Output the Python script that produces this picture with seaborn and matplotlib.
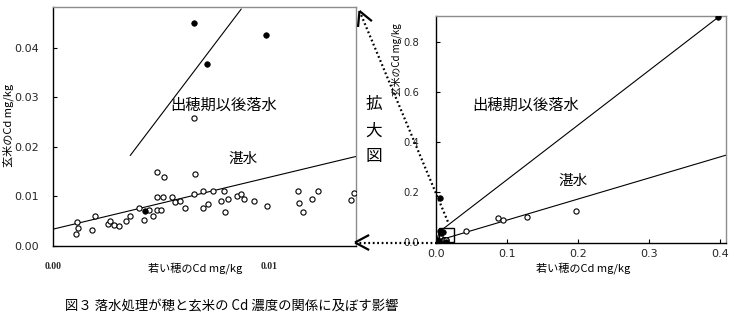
import numpy as np
import pandas as pd
import matplotlib
matplotlib.use("Agg")
import matplotlib.pyplot as plt
import matplotlib.transforms as mtransforms
from matplotlib.lines import Line2D
from matplotlib.patches import Rectangle
import seaborn as sns

# Cd concentration (mg/kg): young panicle (x) vs. brown rice (y)
# continuously flooded plots (open circles)
flooded_x = [0.00109, 0.00118, 0.00107, 0.00183, 0.00195, 0.00254, 0.00265, 0.00285,
             0.00304, 0.00340, 0.00358, 0.00397, 0.00420, 0.00443, 0.00464, 0.00480,
             0.00482, 0.00500, 0.00480, 0.00513, 0.00510, 0.00550, 0.00567, 0.00587,
             0.00610, 0.00657, 0.00653, 0.00696, 0.00696, 0.00718, 0.00743, 0.00780,
             0.00792, 0.00797, 0.00810, 0.00854, 0.00873, 0.00885, 0.00932, 0.00994,
             0.01138, 0.01140, 0.01157, 0.01200, 0.01230, 0.01381, 0.01394, 0.00653]
flooded_y = [0.00485, 0.00350, 0.00236, 0.00320, 0.00600, 0.00440, 0.00500, 0.00420,
             0.00400, 0.00490, 0.00600, 0.00755, 0.00520, 0.00720, 0.00600, 0.00990,
             0.00720, 0.00720, 0.01495, 0.01380, 0.00980, 0.00990, 0.00870, 0.00890,
             0.00755, 0.01435, 0.01040, 0.01110, 0.00755, 0.00840, 0.01100, 0.00900,
             0.01110, 0.00670, 0.00940, 0.01010, 0.01040, 0.00940, 0.00900, 0.00800,
             0.01110, 0.00860, 0.00670, 0.00940, 0.01110, 0.00920, 0.01070, 0.02574]
# drained after heading (filled circles)
drained_x = [0.00653, 0.00715, 0.00989, 0.00425, 0.01420]
drained_y = [0.0449, 0.0367, 0.0426, 0.0069, 0.0008]
# samples only visible on the full-range panel
flooded_wide_x = [0.0428, 0.0874, 0.0944, 0.128, 0.197]
flooded_wide_y = [0.046, 0.096, 0.089, 0.102, 0.126]
drained_wide_x = [0.0056, 0.397]
drained_wide_y = [0.176, 0.900]

# regression lines: (intercept, slope, x_start, x_end)
left_flooded_fit = (0.0033, 1.046, 0.0, 0.01405)
left_drained_fit = (-0.0024, 5.75, 0.00358, 0.00873)
right_flooded_fit = (0.005, 0.843, 0.0047, 0.408)
right_drained_fit = (0.0317, 2.187, 0.0093, 0.397)

left_xticks = [0.00, 0.01]
left_yticks = [0.00, 0.01, 0.02, 0.03, 0.04]
right_xticks = [0.0, 0.1, 0.2, 0.3, 0.4]
right_yticks = [0.0, 0.2, 0.4, 0.6, 0.8]

LBL_FLOOD = "湛水"
LBL_DRAIN = "出穂期以後落水"
XLABEL = "若い穂のCd mg/kg"
YLABEL = "玄米のCd mg/kg"
CAPTION = "図３ 落水処理が穂と玄米の Cd 濃度の関係に及ぼす影響"

sns.set_theme(style="white")
plt.rcParams["font.family"] = ["Noto Sans CJK JP", "DejaVu Sans"]

W, H = 734, 323
fig = plt.figure(figsize=(W / 100, H / 100), dpi=100)
# pixel coordinates, origin top-left
px = mtransforms.Affine2D().scale(1 / W, -1 / H).translate(0, 1) + fig.transFigure


def axes_px(x0, y0, x1, y1):
    return fig.add_axes([x0 / W, 1 - y1 / H, (x1 - x0) / W, (y1 - y0) / H])


ax_l = axes_px(53, 7, 356, 245.5)
ax_r = axes_px(435.7, 16, 726, 242.5)

open_pts = pd.DataFrame({"x": flooded_x, "y": flooded_y})
fill_pts = pd.DataFrame({"x": drained_x, "y": drained_y})
open_wide = pd.concat([open_pts, pd.DataFrame({"x": flooded_wide_x, "y": flooded_wide_y})])
fill_wide = pd.concat([fill_pts, pd.DataFrame({"x": drained_wide_x, "y": drained_wide_y})])


def draw_fit(ax, fit):
    b, m, x0, x1 = fit
    xs = np.array([x0, x1])
    ax.plot(xs, b + m * xs, color="black", lw=0.8, zorder=2)


for ax, op, fp in [(ax_l, open_pts, fill_pts), (ax_r, open_wide, fill_wide)]:
    sns.scatterplot(data=op, x="x", y="y", ax=ax, s=14, marker="o",
                    facecolor="white", edgecolor="black", linewidth=0.8, zorder=3)
    sns.scatterplot(data=fp, x="x", y="y", ax=ax, s=16, marker="o",
                    color="black", edgecolor="black", linewidth=0.5, zorder=4)
    ax.set_xlabel("")
    ax.set_ylabel("")
    ax.grid(False)
    for side in ["left", "bottom"]:
        ax.spines[side].set_color("black")
        ax.spines[side].set_linewidth(1.0)
    for side in ["top", "right"]:
        ax.spines[side].set_color("#8c8c8c")
        ax.spines[side].set_linewidth(1.0)

draw_fit(ax_l, left_flooded_fit)
draw_fit(ax_l, left_drained_fit)
draw_fit(ax_r, right_flooded_fit)
draw_fit(ax_r, right_drained_fit)

# left (magnified) panel
ax_l.set_xlim(0, 0.01405)
ax_l.set_ylim(0, 0.0482)
ax_l.set_yticks(left_yticks)
ax_l.set_yticklabels([f"{v:.2f}" for v in left_yticks], fontsize=8, family="DejaVu Sans")
ax_l.set_xticks(left_xticks)
ax_l.set_xticklabels([f"{v:.2f}" for v in left_xticks], fontsize=7,
                     family="Liberation Serif", fontweight="bold")
ax_l.tick_params(axis="y", direction="in", length=3, width=0.8, color="black", pad=10, left=True)
ax_l.tick_params(axis="x", length=0, pad=12)

# right (full-range) panel
ax_r.set_xlim(0.0033, 0.408)
ax_r.set_ylim(0, 0.905)
ax_r.set_yticks(right_yticks)
ax_r.set_yticklabels([f"{v:.1f}" for v in right_yticks], fontsize=7.2, family="DejaVu Sans")
ax_r.set_xticks(right_xticks)
ax_r.set_xticklabels([f"{v:.1f}" for v in right_xticks], fontsize=8, family="DejaVu Sans")
ax_r.tick_params(axis="y", direction="in", length=3, width=0.8, color="black", pad=12, left=True)
ax_r.tick_params(axis="x", direction="in", length=3, width=0.8, color="black", pad=5, bottom=True)
ax_r.add_patch(Rectangle((0.005, 0.002), 0.021, 0.054, fill=False,
                         edgecolor="black", lw=1.0, zorder=5))

# in-plot labels
txt = dict(transform=px, ha="center", va="center", color="black")
fig.text(223.5, 105.5, LBL_DRAIN, fontsize=11, **txt)
fig.text(243.5, 158.5, LBL_FLOOD, fontsize=10.5, **txt)
fig.text(526, 105.5, LBL_DRAIN, fontsize=11, **txt)
fig.text(573, 180.5, LBL_FLOOD, fontsize=10.5, **txt)

# axis titles
fig.text(195, 268, XLABEL, fontsize=8, **txt)
fig.text(583, 268, XLABEL, fontsize=8, **txt)
fig.text(8, 125, YLABEL, fontsize=8, rotation=90, **txt)
fig.text(397, 60, YLABEL, fontsize=7, rotation=90, **txt)

# "magnified view" marker between panels
for ch, yy in zip("拡大図", [105, 131, 156]):
    fig.text(373.5, yy, ch, fontsize=12, **txt)

# caption
fig.text(231.5, 306.5, CAPTION, fontsize=9.6, **txt)


def dotted_arrow(tip, tail, arm=16, half=28):
    fig.add_artist(Line2D([tip[0], tail[0]], [tip[1], tail[1]], transform=px,
                          color="black", lw=1.6, linestyle=(0, (0.8, 1.2))))
    d = np.array(tail, float) - np.array(tip, float)
    d /= np.hypot(*d)
    for sgn in (1, -1):
        a = np.deg2rad(sgn * half)
        r = np.array([d[0] * np.cos(a) - d[1] * np.sin(a), d[0] * np.sin(a) + d[1] * np.cos(a)])
        end = np.array(tip) + arm * r
        fig.add_artist(Line2D([tip[0], end[0]], [tip[1], end[1]], transform=px,
                              color="black", lw=1.6, solid_capstyle="butt"))


dotted_arrow((359.5, 11), (448, 222))
dotted_arrow((355, 242.5), (436, 242.5))

fig.savefig("out.png", dpi=100)
